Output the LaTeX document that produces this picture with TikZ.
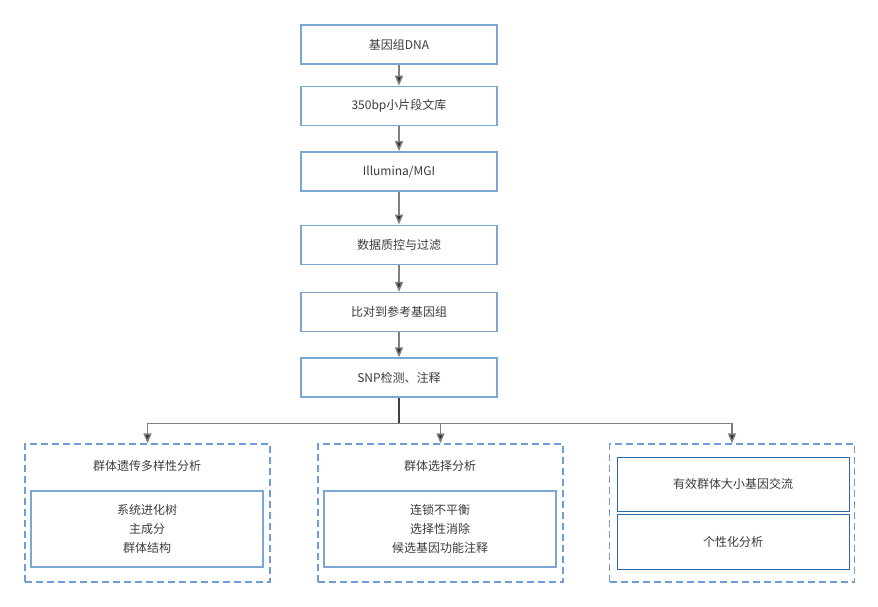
\documentclass[tikz,border=0pt]{standalone}
\usepackage{fontspec}
\setmainfont{Noto Sans CJK SC}
\usetikzlibrary{arrows.meta, positioning, calc}

\definecolor{flblue}{HTML}{7BA7D4}
\definecolor{fldark}{HTML}{2A68B0}
\definecolor{fldash}{HTML}{6E9ED4}
\definecolor{fltext}{HTML}{3C3C3C}
\definecolor{flline}{HTML}{7F7F7F}

\begin{document}
\begin{tikzpicture}[
  x=1pt, y=-1pt,
  font=\fontsize{12}{19}\selectfont,
  node distance=21pt,
  flbox/.style={draw=flblue, line width=1.4pt, fill=white, text=fltext, align=center,
                minimum width=196pt, minimum height=39pt, inner sep=2pt},
  flinner/.style={flbox, minimum width=232pt, minimum height=76pt},
  flsub/.style={flbox, draw=fldark, line width=1pt, minimum width=232pt, minimum height=54pt},
  flgroup/.style={draw=fldash, line width=1.3pt, dash pattern=on 7pt off 4pt,
                  minimum width=245pt, minimum height=138pt, inner sep=0pt},
  fltitle/.style={text=fltext, inner sep=1pt},
  flline/.style={draw=flline, line width=1.4pt},
  flar/.style={flline, -{Stealth[length=10pt,width=8pt,inset=0pt,fill=black!80]}}
]
\useasboundingbox (0,0) rectangle (878,606);

%--------------------------------------------------------------
% Colonna centrale
%--------------------------------------------------------------
\node[flbox] (dna) at (399,44.5) {基因组DNA};
\node[flbox, below=21pt of dna] (lib) {350bp小片段文库};
\node[flbox, below=25pt of lib] (seq) {Illumina/MGI};
\node[flbox, below=33pt of seq] (qc) {数据质控与过滤};
\node[flbox, below=27pt of qc] (map) {比对到参考基因组};
\node[flbox, below=25pt of map] (snp) {SNP检测、注释};

\coordinate (br) at ($(snp.south)+(0,26)$);

%--------------------------------------------------------------
% Gruppi in basso
%--------------------------------------------------------------
\node[flgroup] (gdiv) at (147.5,513) {};
\node[fltitle] (tdiv) at (147,466) {群体遗传多样性分析};
\node[flinner] (idiv) at (147,529) {系统进化树\\主成分\\群体结构};

\node[flgroup] (gsel) at (440.5,513) {};
\node[fltitle] (tsel) at (440,466) {群体选择分析};
\node[flinner] (isel) at (440,529) {连锁不平衡\\选择性消除\\候选基因功能注释};

\node[flgroup] (gne) at (732,513) {};
\node[flsub] (ine) at (733,484) {有效群体大小基因交流};
\node[flsub, minimum height=55pt] (iind) at (733,541.5) {个性化分析};

%--------------------------------------------------------------
% Collegamenti
%--------------------------------------------------------------
\draw[flar] (dna.south) -- (lib.north);
\draw[flar] (lib.south) -- (seq.north);
\draw[flar] (seq.south) -- (qc.north);
\draw[flar] (qc.south) -- (map.north);
\draw[flar] (map.south) -- (snp.north);

\draw[line width=1.4pt, draw=black!75] (snp.south) -- (br);
\draw[flar] (br) -| (gdiv.north);
\draw[flar] (br) -| (gsel.north);
\draw[flar] (br) -| (gne.north);

\end{tikzpicture}
\end{document}
